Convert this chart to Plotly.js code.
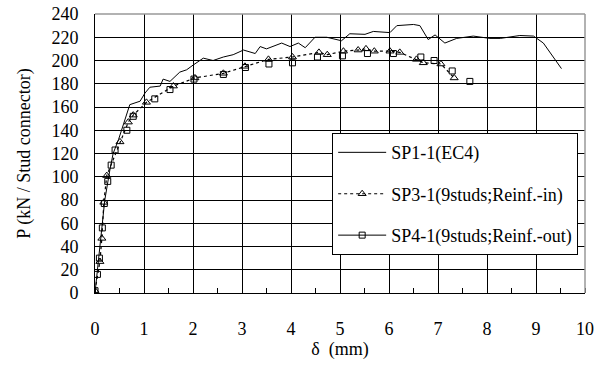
<!DOCTYPE html>
<html>
<head>
<meta charset="utf-8">
<script src="https://cdn.plot.ly/plotly-3.0.1.min.js"></script>
<style>html,body{margin:0;padding:0;background:#fff;}#chart{width:608px;height:365px;}</style>
</head>
<body>
<div id="chart"></div>
<script>
// SP1-1 (EC4)
const sp1X = [0, 0.03, 0.1, 0.2, 0.3, 0.37, 0.48, 0.54, 0.61, 0.71, 0.92, 1.02, 1.12, 1.33, 1.39, 1.53, 1.73, 1.87, 2.0, 2.21, 2.41, 2.62, 2.82, 3.03, 3.27, 3.37, 3.5, 3.81, 3.98, 4.15, 4.29, 4.49, 4.73, 5.03, 5.2, 5.51, 5.68, 6.02, 6.16, 6.5, 6.63, 6.8, 6.94, 7.14, 7.38, 7.72, 8.06, 8.27, 8.67, 8.95, 9.15, 9.52];
const sp1Y = [0, 12, 45, 80, 105, 120, 132, 140, 150, 162, 165, 172, 177, 178, 184, 182, 190, 192, 196, 202, 200, 203, 205, 209, 206, 212, 210, 215, 212, 215, 211, 220, 220, 217, 223, 222.5, 225, 224, 230, 231, 230, 218, 222, 215, 219, 221, 219, 219, 221.5, 221, 215, 193];
// SP3-1 (9studs;Reinf.-in)
const sp3X = [0, 0.1, 0.14, 0.18, 0.24, 0.51, 0.68, 0.78, 1.05, 1.6, 2.04, 2.62, 3.06, 3.54, 4.03, 4.57, 4.74, 5.07, 5.37, 5.53, 5.7, 6.02, 6.22, 6.56, 6.7, 7.06, 7.33];
const sp3Y = [2, 27, 47, 78, 101, 130, 147, 153, 164, 178, 185, 189, 195, 201, 203, 207, 205, 208, 209, 210, 208, 208, 207, 201, 198, 197, 185];
// SP4-1 (9studs;Reinf.-out)
const sp4X = [0, 0.05, 0.09, 0.15, 0.19, 0.26, 0.33, 0.41, 0.65, 0.78, 1.22, 1.53, 2.02, 2.62, 3.07, 3.55, 4.03, 4.54, 5.05, 5.56, 6.09, 6.65, 6.92, 7.29, 7.65];
const sp4Y = [2, 16, 30, 56, 77, 96, 110, 123, 140, 152, 167, 175, 184, 188, 194, 197, 198, 203, 204, 206, 206, 203, 200, 191, 182];

const names = ["SP1-1(EC4)", "SP3-1(9studs;Reinf.-in)", "SP4-1(9studs;Reinf.-out)"];
const xTicks = [0, 1, 2, 3, 4, 5, 6, 7, 8, 9, 10];
const yTicks = [0, 20, 40, 60, 80, 100, 120, 140, 160, 180, 200, 220, 240];

const FONT = "'Liberation Serif', 'Times New Roman', Times, serif";
const FS = 18;

const traces = [
  {x: sp1X, y: sp1Y, mode: 'lines', name: names[0], legendgroup: 'a',
   line: {color: '#000', width: 1}},
  {x: sp3X, y: sp3Y, mode: 'lines+markers', name: names[1], legendgroup: 'b',
   line: {color: '#000', width: 1.2, dash: 'dot'},
   marker: {symbol: 'triangle-up-open', size: 7, color: '#000', line: {width: 1}}},
  {x: sp4X, y: sp4Y, mode: 'markers', name: names[2], showlegend: false,
   marker: {symbol: 'square-open', size: 6, color: '#000', line: {width: 1}}},
  {x: [null], y: [null], mode: 'lines+markers', name: names[2], legendgroup: 'c',
   line: {color: '#000', width: 1},
   marker: {symbol: 'square-open', size: 6, color: '#000', line: {width: 1}}}
];

const layout = {
  width: 608, height: 365,
  margin: {l: 95, r: 23, t: 14, b: 72},
  paper_bgcolor: '#fff', plot_bgcolor: '#fff',
  font: {family: FONT, size: FS, color: '#000'},
  showlegend: true,
  legend: {x: 0.484, y: 0.573, xanchor: 'left', yanchor: 'top',
    bgcolor: '#fff', bordercolor: '#000', borderwidth: 1,
    font: {family: FONT, size: FS, color: '#000'},
    itemwidth: 48,
    traceorder: 'grouped', tracegroupgap: 15},
  xaxis: {range: [0, 10], tickvals: xTicks, ticktext: xTicks.map(String),
    showgrid: true, gridcolor: '#000', gridwidth: 1,
    showline: true, linecolor: '#000', linewidth: 1,
    ticks: '', ticklabelstandoff: 19, zeroline: false,
    tickfont: {family: FONT, size: FS},
    minor: {dtick: 0.5, ticks: 'inside', ticklen: 5, tickcolor: '#000', showgrid: false},
    title: {text: 'δ  (mm)', font: {family: FONT, size: FS}, standoff: 3}},
  yaxis: {range: [0, 240], tickvals: yTicks, ticktext: yTicks.map(String),
    showgrid: true, gridcolor: '#000', gridwidth: 1,
    showline: true, linecolor: '#000', linewidth: 1,
    ticks: '', ticklabelstandoff: 12, zeroline: false,
    tickfont: {family: FONT, size: FS},
    title: {text: 'P (kN / Stud connector)', font: {family: FONT, size: FS}, standoff: 16}},
  shapes: [
    {type: 'line', xref: 'paper', yref: 'paper', x0: 0, x1: 1, y0: 1, y1: 1, line: {color: '#999', width: 1.5}},
    {type: 'line', xref: 'paper', yref: 'paper', x0: 1, x1: 1, y0: 0, y1: 1, line: {color: '#999', width: 1.5}}
  ]
};

Plotly.newPlot('chart', traces, layout, {displayModeBar: false, staticPlot: true});
</script>
</body>
</html>
